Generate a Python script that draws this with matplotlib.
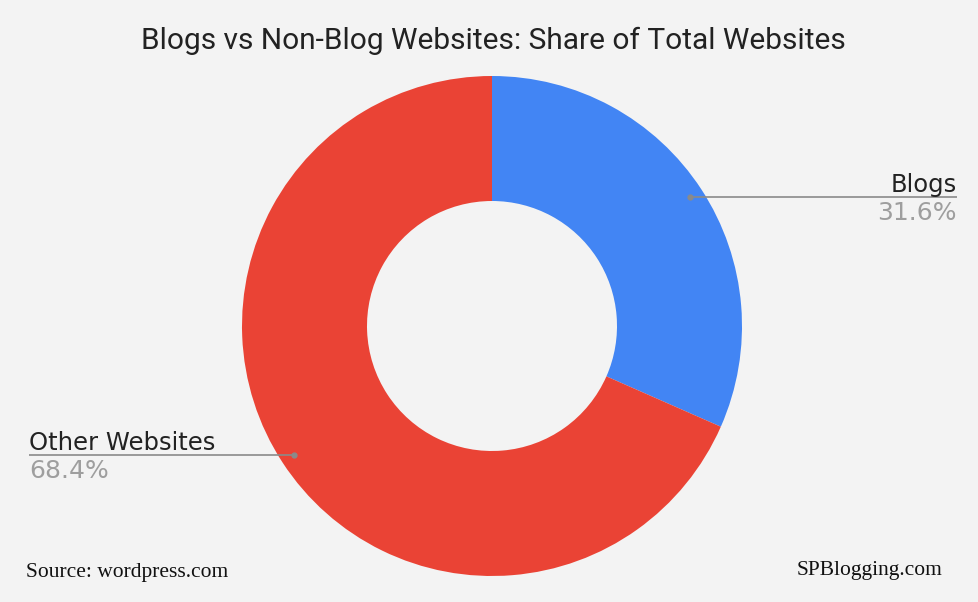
import numpy as np
import matplotlib
matplotlib.use("Agg")
import matplotlib.pyplot as plt

categories = ["Blogs", "Other Websites"]
shares = [31.6, 68.4]
colors = ["#4285f4", "#ea4335"]
title = "Blogs vs Non-Blog Websites: Share of Total Websites"
source = "Source: wordpress.com"
brand = "SPBlogging.com"

W, H = 979, 602
fig = plt.figure(figsize=(W / 100, H / 100), dpi=100)
fig.patch.set_facecolor("#f3f3f3")
ax = fig.add_axes([0, 0, 1, 1])
ax.set_xlim(0, W)
ax.set_ylim(0, H)
ax.set_aspect("equal")
ax.axis("off")

cx, cy = 492, H - 326
R = 250
wedges, _ = ax.pie(shares, colors=colors, startangle=90, counterclock=False,
                   radius=R, center=(cx, cy), frame=True,
                   wedgeprops=dict(width=R * 0.5, edgecolor="none"))
ax.set_xlim(0, W)
ax.set_ylim(0, H)
ax.axis("off")

rl = 236
for w, cat, val in zip(wedges, categories, shares):
    ang = np.deg2rad((w.theta1 + w.theta2) / 2)
    px = cx + rl * np.cos(ang)
    py = cy + rl * np.sin(ang)
    if np.cos(ang) > 0:
        x_end = 957
        ha = "right"
    else:
        x_end = 29
        ha = "left"
    ax.plot([px, x_end], [py, py], color="#8a8a8a", lw=1.2, solid_capstyle="butt")
    ax.plot([px], [py], "o", color="#8a8a8a", ms=3.5)
    ax.text(x_end, py + 5, cat, ha=ha, va="baseline", fontsize=17.5,
            color="#222222", family="DejaVu Sans")
    ax.text(x_end, py - 4, f"{val}%", ha=ha, va="top", fontsize=18,
            color="#9e9e9e", family="DejaVu Sans")

fig.text(493 / W, 1 - 41 / H, title, ha="center", va="center",
         fontsize=21.5, color="#222222", family="Roboto")
fig.text(26 / W, 1 - 572 / H, source, ha="left", va="center",
         fontsize=15.5, color="#111111", family="Liberation Serif")
fig.text(943 / W, 1 - 570 / H, brand, ha="right", va="center",
         fontsize=15.5, color="#111111", family="Liberation Serif")

fig.savefig("out.png", dpi=100, facecolor=fig.get_facecolor())
